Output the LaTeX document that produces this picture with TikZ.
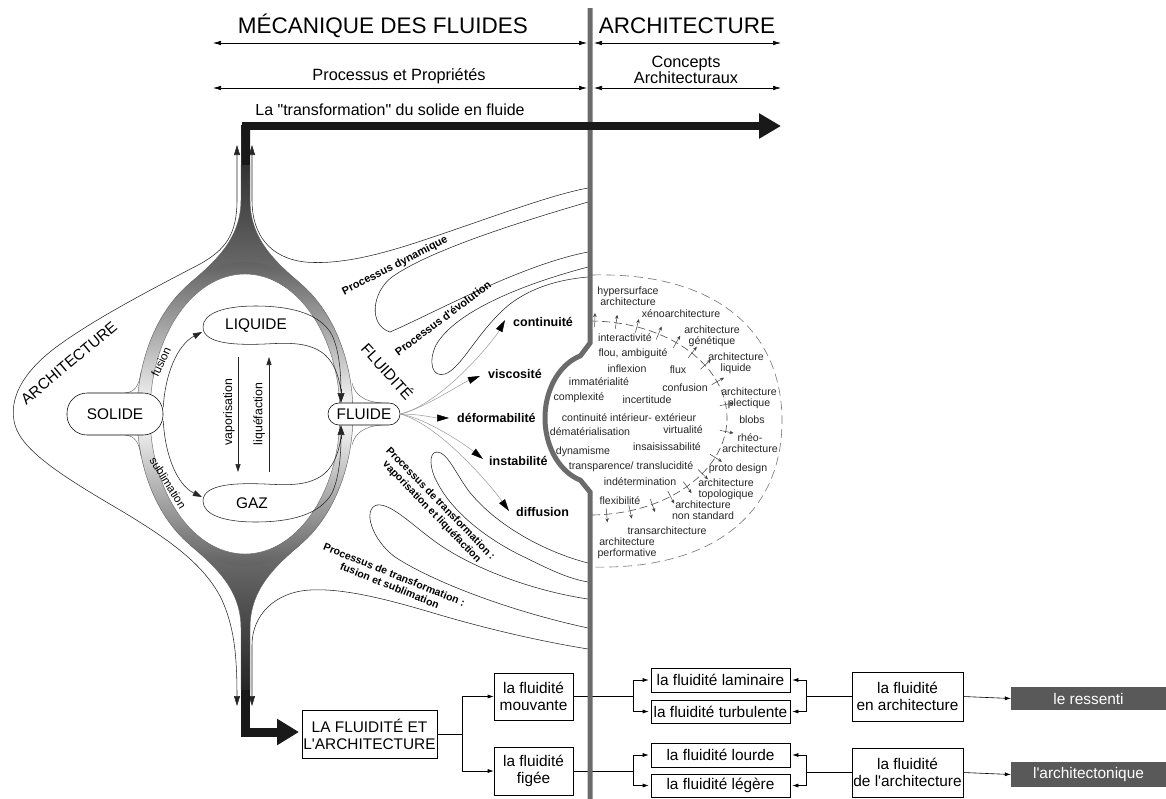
\documentclass[tikz,border=0pt]{standalone}
\usepackage{fontspec}
\setmainfont{Liberation Sans}
\newfontfamily\plainsans{Liberation Sans}
\usetikzlibrary{arrows.meta}
\newcommand\fntH{\fontsize{22.5}{26}\selectfont}
\newcommand\fntS{\fontsize{16.3}{14}\selectfont}
\newcommand\fntT{\fontsize{16}{18}\selectfont}
\newcommand\fntM{\fontsize{15.4}{17}\selectfont}
\newcommand\fntP{\fontsize{12.5}{14}\selectfont\bfseries}
\newcommand\fntQ{\fontsize{11}{12.5}\selectfont\bfseries}
\newcommand\fntR{\fontsize{10.5}{12}\selectfont\bfseries}
\newcommand\fntE{\fontsize{10.6}{10.6}\selectfont}
\newcommand\fntL{\fontsize{12.3}{14}\selectfont}
\begin{document}
\plainsans
\begin{tikzpicture}[x=1pt,y=-1pt,
  thinl/.style={line width=0.55pt, black!85},
  ringl/.style={line width=0.45pt, black!60},
  gl/.style={line width=0.5pt, black!40},
  hdarr/.style={line width=0.6pt, {Latex[length=8pt,width=4.5pt]}-{Latex[length=8pt,width=4.5pt]}},
  tipb/.style={-{Triangle[length=12pt,width=7pt,color=black]}},
  smtip/.style={-{Triangle[length=9pt,width=6pt]}},
  wbox/.style={draw, line width=0.6pt, fill=white, inner sep=1pt, font=\fntM, align=center},
  gbox/.style={fill=black!65, text=white, inner sep=1pt, font=\fntM},
  conn/.style={line width=0.6pt, -{Latex[length=6pt,width=4pt]}},
  etxt/.style={font=\fntE, text=black!85, align=center, inner sep=0pt},
  tickarr/.style={line width=0.5pt, black!75, -{Stealth[length=4pt,width=3.5pt]}},
  plab/.style={font=\fntP, inner sep=0pt, anchor=west},
  qlab/.style={font=\fntQ, inner sep=0pt, align=center},
  rlab/.style={font=\fntR, inner sep=0pt, align=center},
  blobl/.style={line width=0.55pt, black!85},
]
\useasboundingbox (0,0) rectangle (1166,798);

% ---------- header ----------
\node[font=\fntH] (mec) at (383,26) {MÉCANIQUE DES FLUIDES};
\node[font=\fntH] (arh) at (687,26) {ARCHITECTURE};
\coordinate (ha1) at (213,43); \coordinate (ha2) at (587,43);
\coordinate (ha3) at (594,43); \coordinate (ha4) at (781,43);
\draw[hdarr] (ha1) -- (ha2); \draw[hdarr] (ha3) -- (ha4);
\node[font=\fntS] (ppr) at (399,76) {Processus et Propriétés};
\node[font=\fntS, align=center] (cac) at (686,70) {Concepts\\Architecturaux};
\coordinate (hb1) at (213,88); \coordinate (hb2) at (587,88);
\coordinate (hb3) at (594,88); \coordinate (hb4) at (781,88);
\draw[hdarr] (hb1) -- (hb2); \draw[hdarr] (hb3) -- (hb4);
\node[font=\fntT] (ltr) at (390,110) {La "transformation" du solide en fluide};

% ---------- funnels and ring ----------
\shade[top color=black!88, bottom color=black!50] (241,125) -- (241,200) .. controls (241,238) and (216,261) .. (190,283) -- (190,312) -- (300,312) -- (300,283) .. controls (274,261) and (250,238) .. (250,200) -- (250,125) -- cycle;
\shade[top color=black!50, bottom color=black!88] (241,703) -- (241,628) .. controls (241,590) and (216,567) .. (190,545) -- (190,516) -- (300,516) -- (300,545) .. controls (274,567) and (250,590) .. (250,628) -- (250,703) -- cycle;
\shade[top color=black!62, bottom color=black!62, middle color=white, even odd rule] (245,414) ellipse [x radius=108pt, y radius=152pt] (245,414) ellipse [x radius=95pt, y radius=140pt];
\fill[white] (245,414) ellipse [x radius=95pt, y radius=140pt];
\draw[ringl] plot[domain=-59.4:59.4, samples=60] ({245+108*cos(\x)},{414-152*sin(\x)});
\draw[ringl] plot[domain=120.6:239.4, samples=60] ({245+108*cos(\x)},{414-152*sin(\x)});
\draw[ringl] (245,414) ellipse [x radius=95pt, y radius=140pt];
\draw[ringl] (241,165) -- (241,200) .. controls (241,238) and (216,261) .. (190,283);
\draw[ringl] (250,165) -- (250,200) .. controls (250,238) and (274,261) .. (300,283);
\draw[ringl] (241,690) -- (241,628) .. controls (241,590) and (216,567) .. (190,545);
\draw[ringl] (250,690) -- (250,628) .. controls (250,590) and (274,567) .. (300,545);
% flares at FLUIDE and SOLIDE
\draw[ringl] (352,383) .. controls (355,396) and (366,402) .. (382,403);
\draw[ringl] (352,445) .. controls (355,432) and (366,426) .. (382,425);
\draw[ringl] (141,372) .. controls (139,386) and (135,392) .. (125,393);
\draw[ringl] (141,456) .. controls (139,442) and (135,436) .. (125,435);

% ---------- outer thin curves ----------
\draw[thinl, {Triangle[length=10pt,width=6pt]}-{Triangle[length=10pt,width=6pt]}] (237,145) -- (237,200) .. controls (237,235) and (225,250) .. (200,264) .. controls (160,285) and (95,318) .. (55,348) .. controls (22,373) and (8,400) .. (15,425) .. controls (22,450) and (60,475) .. (120,510) .. controls (170,540) and (205,565) .. (222,600) .. controls (233,625) and (237,650) .. (237,706);
\draw[thinl, {Triangle[length=10pt,width=6pt]}-] (252,145) -- (252,200) .. controls (252,235) and (270,258) .. (305,262) .. controls (340,265) and (380,255) .. (430,238) .. controls (490,218) and (550,195) .. (588,188);
\draw[thinl, {Triangle[length=10pt,width=6pt]}-] (252,706) -- (252,645) .. controls (252,615) and (275,592) .. (310,590) .. controls (345,588) and (390,600) .. (440,615) .. controls (495,631) and (545,642) .. (588,649);
% tongues
\draw[thinl] (588,202) .. controls (520,222) and (430,250) .. (392,277) .. controls (372,292) and (368,325) .. (390,332) .. controls (430,315) and (520,265) .. (588,252);
\draw[thinl] (588,267) .. controls (520,285) and (455,312) .. (436,345) .. controls (428,362) and (432,378) .. (445,374) .. controls (462,368) and (478,330) .. (510,304) .. controls (535,285) and (565,279) .. (588,277);
\draw[thinl] (588,563) .. controls (545,552) and (495,525) .. (468,490) .. controls (455,472) and (447,452) .. (437,452) .. controls (428,452) and (430,470) .. (437,482) .. controls (450,508) and (480,535) .. (520,555) .. controls (545,567) and (565,578) .. (588,582);
\draw[thinl] (588,599) .. controls (540,592) and (480,572) .. (440,545) .. controls (415,528) and (392,503) .. (377,505) .. controls (362,509) and (372,540) .. (395,557) .. controls (430,580) and (505,610) .. (588,628);

% ---------- inner nodes ----------
\node[draw, line width=0.55pt, fill=white, rounded corners=20pt, minimum width=96pt, minimum height=42pt, inner sep=0pt, font=\fntM] (sol) at (115,414) {SOLIDE};
\node[draw, line width=0.55pt, fill=white, rounded corners=11pt, minimum width=72pt, minimum height=22pt, inner sep=0pt, font=\fntM] (fl) at (364,414) {FLUIDE};
\draw[blobl] (203,327) .. controls (203,313) and (225,306) .. (255,306) .. controls (290,306) and (320,313) .. (332,335) .. controls (339,350) and (341,372) .. (341,392) .. controls (339,375) and (333,358) .. (318,350) .. controls (303,342) and (285,343) .. (265,344) .. controls (240,345) and (203,345) .. (203,327) -- cycle;
\draw[blobl] (203,501) .. controls (203,515) and (225,522) .. (255,522) .. controls (290,522) and (320,515) .. (332,493) .. controls (339,478) and (341,456) .. (341,436) .. controls (339,453) and (333,470) .. (318,478) .. controls (303,486) and (285,485) .. (265,484) .. controls (240,483) and (203,483) .. (203,501) -- cycle;
\coordinate (lq1) at (341,389); \coordinate (lq2) at (341,403);
\coordinate (gz1) at (341,439); \coordinate (gz2) at (341,425);
\draw[thinl, -{Triangle[length=10pt,width=7pt]}] (lq1) -- (lq2);
\draw[thinl, -{Triangle[length=10pt,width=7pt]}] (gz1) -- (gz2);
\node[font=\fntM] (liq) at (256,326) {LIQUIDE};
\node[font=\fntM] (gaz) at (252,503) {GAZ};
\coordinate (liqw) at (202,332); \coordinate (gazw) at (202,497);
\draw[thinl, smtip] (sol.8) .. controls (165,375) and (177,345) .. (liqw);
\draw[thinl, smtip] (sol.-8) .. controls (165,455) and (177,485) .. (gazw);
\coordinate (va1) at (238,357); \coordinate (va2) at (238,472);
\coordinate (lf1) at (269,472); \coordinate (lf2) at (269,357);
\draw[thinl, -{Triangle[length=8pt,width=5pt]}] (va1) -- (va2);
\draw[thinl, -{Triangle[length=8pt,width=5pt]}] (lf1) -- (lf2);
\node[font=\fntL, rotate=90] (vap) at (229,412) {vaporisation};
\node[font=\fntL, rotate=90] (lqf) at (259,414) {liquéfaction};
\node[font=\fontsize{11.5}{13}\selectfont, rotate=65, inner sep=0pt] (fus) at (161,362) {fusion};
\node[font=\fontsize{11.5}{13}\selectfont, rotate=-58, inner sep=0pt] (sub) at (168,483) {sublimation};
\node[font=\fontsize{15.3}{17}\selectfont, rotate=40] (arl) at (69,363) {ARCHITECTURE};
\node[font=\fntM, rotate=-48] (fld) at (388,371) {FLUIDITÉ};

% ---------- fan of properties ----------
\draw[gl, tipb] (fl.east) .. controls (440,405) and (493,342) .. (505,320);
\draw[gl, tipb] (fl.east) .. controls (425,408) and (460,384) .. (480,376);
\draw[gl, tipb] (fl.east) .. controls (420,414) and (435,418) .. (449,418);
\draw[gl, tipb] (fl.east) .. controls (425,418) and (463,443) .. (483,459);
\draw[gl, tipb] (fl.east) .. controls (440,425) and (492,487) .. (509,511);
\node[plab] (pcon) at (513,322) {continuité};
\node[plab] (pvis) at (488,374) {viscosité};
\node[plab] (pdef) at (457,418) {déformabilité};
\node[plab] (pins) at (489,461) {instabilité};
\node[plab] (pdif) at (516,512) {diffusion};
\node[qlab, rotate=27] (pdyn) at (395,266) {Processus dynamique};
\node[qlab, rotate=37] (pevo) at (443,318) {Processus d'évolution};
\node[rlab, rotate=-46] (pvap) at (436,508) {Processus de transformation :\\vaporisation et liquéfaction};
\node[rlab, rotate=-22] (pfus) at (392,580) {Processus de transformation :\\fusion et sublimation};

% ---------- dashed ellipses ----------
\draw[black!55, line width=0.6pt, dash pattern=on 9pt off 5pt] (592,275) .. controls (715,272) and (782,330) .. (782,421) .. controls (782,512) and (715,570) .. (592,567);
\draw[black!70, line width=0.6pt, dash pattern=on 8pt off 4pt] plot[domain=90:-90, samples=90] ({590+137*cos(\x)},{418-97*sin(\x)});
\foreach \a in {88,79,70,60,51,42,33,22,8,-8,-24,-35,-45,-54,-63,-73,-83} {
  \pgfmathsetmacro\tkx{590+137*cos(\a)}
  \pgfmathsetmacro\tky{418-97*sin(\a)}
  \pgfmathsetmacro\tnx{0.97*cos(\a)}
  \pgfmathsetmacro\tny{-1.37*sin(\a)}
  \pgfmathsetmacro\tnn{sqrt(\tnx*\tnx+\tny*\tny)}
  \draw[tickarr] ({\tkx-6*\tnx/\tnn},{\tky-6*\tny/\tnn}) -- ({\tkx+8*\tnx/\tnn},{\tky+8*\tny/\tnn});
}
\node[etxt] (e1) at (628,296.5) {hypersurface\\architecture};
\node[etxt] (e2) at (681,314) {xénoarchitecture};
\node[etxt] (e3) at (625,338) {interactivité};
\node[etxt] (e4) at (712,336.5) {architecture\\génétique};
\node[etxt] (e5) at (633,354) {flou, ambiguité};
\node[etxt] (e6) at (627,369) {inflexion};
\node[etxt] (e7) at (678,370) {flux};
\node[etxt] (e8) at (736,363.5) {architecture\\liquide};
\node[etxt] (e9) at (599,382) {immatérialité};
\node[etxt] (e10) at (685,388) {confusion};
\node[etxt] (e11) at (749,398.5) {architecture\\plectique};
\node[etxt] (e12) at (579,398) {complexité};
\node[etxt] (e13) at (647,400) {incertitude};
\node[etxt] (e14) at (752,420) {blobs};
\node[etxt] (e15) at (629,418) {continuité intérieur- extérieur};
\node[etxt] (e16) at (590,432) {dématérialisation};
\node[etxt] (e17) at (683,430) {virtualité};
\node[etxt] (e18) at (750,443) {rhéo-\\architecture};
\node[etxt] (e19) at (583,452) {dynamisme};
\node[etxt] (e20) at (667,447) {insaisissabilité};
\node[etxt] (e21) at (631,467) {transparence/ translucidité};
\node[etxt] (e22) at (738,469) {proto design};
\node[etxt] (e23) at (640,482) {indétermination};
\node[etxt] (e24) at (726,489.5) {architecture\\topologique};
\node[etxt] (e25) at (620,501) {flexibilité};
\node[etxt] (e26) at (703,510.5) {architecture\\non standard};
\node[etxt] (e27) at (667,531) {transarchitecture};
\node[etxt] (e28) at (627,548) {architecture\\performative};

% ---------- bottom boxes ----------
\node[wbox, minimum width=135pt, minimum height=48pt] (lafa) at (369.5,734) {LA FLUIDITÉ ET\\L'ARCHITECTURE};
\node[wbox, minimum width=79pt, minimum height=47pt] (mouv) at (533.5,696.5) {la fluidité\\mouvante};
\node[wbox, minimum width=79pt, minimum height=48pt] (fige) at (533.5,771) {la fluidité\\figée};
\node[wbox, minimum width=139pt, minimum height=24pt] (lam) at (720.5,680) {la fluidité laminaire};
\node[wbox, minimum width=139pt, minimum height=23pt] (turb) at (720.5,711.5) {la fluidité turbulente};
\node[wbox, minimum width=139pt, minimum height=24pt] (lour) at (720.5,755) {la fluidité lourde};
\node[wbox, minimum width=139pt, minimum height=23pt] (lege) at (720.5,785.5) {la fluidité légère};
\node[wbox, minimum width=111pt, minimum height=49pt] (enar) at (907.5,696.5) {la fluidité\\en architecture};
\node[wbox, minimum width=111pt, minimum height=49pt] (dear) at (907.5,772.5) {la fluidité\\de l'architecture};
\node[gbox, minimum width=155pt, minimum height=23pt] (ress) at (1088.5,698.5) {le ressenti};
\node[gbox, minimum width=155pt, minimum height=25pt] (arct) at (1088.5,774.5) {l'architectonique};
\draw[conn] (lafa.east) -- ++(25,0) |- (mouv.west);
\draw[conn] (lafa.east) -- ++(25,0) |- (fige.west);
\draw[conn] (mouv.east) -- ++(60,0) |- ([xshift=-2pt]lam.west);
\draw[conn] (mouv.east) -- ++(60,0) |- ([xshift=-2pt]turb.west);
\draw[conn] (fige.east) -- ++(60,0) |- ([xshift=-2pt]lour.west);
\draw[conn] (fige.east) -- ++(60,0) |- ([xshift=-2pt]lege.west);
\draw[conn] (enar.west) -- ++(-45,0) |- ([xshift=2pt]lam.east);
\draw[conn] (enar.west) -- ++(-45,0) |- ([xshift=2pt]turb.east);
\draw[conn] (dear.west) -- ++(-45,0) |- ([xshift=2pt]lour.east);
\draw[conn] (dear.west) -- ++(-45,0) |- ([xshift=2pt]lege.east);
\draw[conn] (enar.east) -- (ress.west);
\draw[conn] (dear.east) -- (arct.west);

% ---------- vertical bar ----------
\draw[line width=5pt, black!58] (590,8) -- (590,343) -- plot[domain=107:253, samples=60] ({595+50*cos(\x)},{418-65*sin(\x)}) -- (590,492) -- (590,800);

% ---------- thick black arrows ----------
\draw[line width=8pt, black!90, line join=miter, -{Triangle[length=22pt,width=24pt]}] (245.5,165) -- (245.5,126) -- (781,126);
\draw[line width=9pt, black!90, line join=miter, -{Triangle[length=22pt,width=25pt]}] (245.5,690) -- (245.5,732) -- (299,732);
\end{tikzpicture}
\end{document}
